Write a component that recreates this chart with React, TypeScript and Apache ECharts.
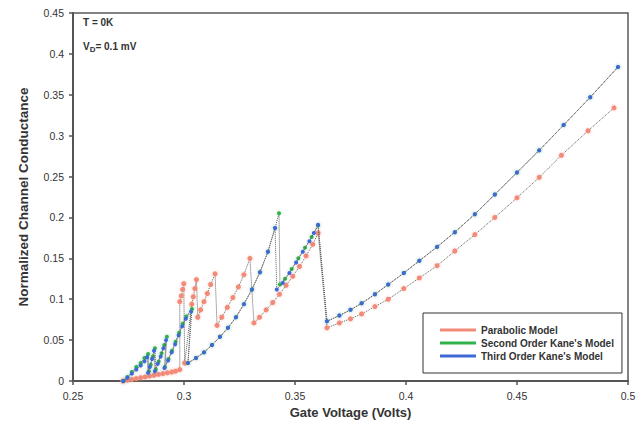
import React, { useEffect, useRef } from "react";
import * as echarts from "echarts";

// ---- Data ----
const xTicks = [0.25, 0.3, 0.35, 0.4, 0.45, 0.5];
const yTicks = [0, 0.05, 0.1, 0.15, 0.2, 0.25, 0.3, 0.35, 0.4, 0.45];
const seriesNames = ["Parabolic Model", "Second Order Kane's Model", "Third Order Kane's Model"];

// Parabolic model
const parabolicX = [
  0.2725, 0.2745, 0.2765, 0.2785, 0.2805, 0.2825, 0.2845, 0.2865, 0.2885, 0.2905, 0.2925, 0.2945, 0.2962, 0.2981,
  0.2981, 0.2988, 0.2994, 0.2999,
  0.3003,
  0.3035, 0.3042, 0.3049, 0.3056,
  0.3062, 0.3075, 0.309, 0.3105, 0.312, 0.314,
  0.3149, 0.317, 0.3195, 0.322, 0.3245, 0.327, 0.3297,
  0.3315, 0.334, 0.337, 0.34, 0.343, 0.346, 0.349, 0.352, 0.355, 0.358, 0.3604,
  0.3644, 0.37, 0.375, 0.38, 0.386, 0.392, 0.399, 0.406, 0.414, 0.422, 0.431, 0.44, 0.45, 0.46, 0.47, 0.482, 0.4937,
];
const parabolicY = [
  0, 0.001, 0.002, 0.003, 0.004, 0.005, 0.006, 0.007, 0.008, 0.009, 0.010, 0.011, 0.012, 0.014,
  0.097, 0.104, 0.112, 0.119,
  0.022,
  0.094, 0.103, 0.113, 0.124,
  0.078, 0.087, 0.097, 0.107, 0.118, 0.131,
  0.068, 0.078, 0.09, 0.102, 0.115, 0.13, 0.15,
  0.071, 0.078, 0.087, 0.096, 0.106, 0.117, 0.128, 0.14, 0.153, 0.167, 0.181,
  0.065, 0.071, 0.076, 0.082, 0.091, 0.1, 0.113, 0.126, 0.141, 0.159, 0.179, 0.2, 0.224, 0.249, 0.276, 0.306, 0.334,
];

// Second order Kane's model
const secondX = [
  0.2727, 0.2745, 0.2765, 0.2785, 0.2805, 0.2822, 0.2838,
  0.2842, 0.285, 0.286, 0.2869,
  0.2873, 0.2886, 0.2899, 0.2911, 0.2923,
  0.2914, 0.293, 0.2946, 0.2962, 0.2978, 0.2994, 0.301, 0.3036,
  0.3018, 0.3054, 0.309, 0.3126, 0.3162, 0.3198, 0.3234, 0.327, 0.3306, 0.3342, 0.3378, 0.341, 0.3428,
  0.3432, 0.3455, 0.3485, 0.3515, 0.3545, 0.3575, 0.3604,
  0.3644, 0.37, 0.375, 0.38, 0.386, 0.392, 0.399, 0.406, 0.414, 0.422, 0.431, 0.44, 0.45, 0.46, 0.471, 0.483, 0.4955,
];
const secondY = [
  0, 0.005, 0.011, 0.017, 0.022, 0.028, 0.033,
  0.012, 0.02, 0.03, 0.04,
  0.014, 0.024, 0.034, 0.044, 0.054,
  0.017, 0.027, 0.037, 0.048, 0.059, 0.07, 0.079, 0.088,
  0.022, 0.028, 0.035, 0.044, 0.054, 0.065, 0.078, 0.094, 0.112, 0.133, 0.158, 0.187, 0.205,
  0.118, 0.125, 0.137, 0.15, 0.163, 0.176, 0.19,
  0.073, 0.08, 0.087, 0.095, 0.106, 0.118, 0.132, 0.147, 0.164, 0.182, 0.204, 0.228, 0.255, 0.282, 0.313, 0.347, 0.384,
];

// Third order Kane's model
const thirdX = [
  0.2727, 0.2745, 0.2765, 0.2785, 0.2805, 0.2822, 0.2834,
  0.2838, 0.2846, 0.2856, 0.2865,
  0.2869, 0.2882, 0.2895, 0.2907, 0.2919,
  0.2912, 0.2928, 0.2944, 0.296, 0.2976, 0.2992, 0.3008, 0.3032,
  0.3018, 0.3054, 0.309, 0.3126, 0.3162, 0.3198, 0.3234, 0.327, 0.3306, 0.3342, 0.3378, 0.341,
  0.3418, 0.3445, 0.3475, 0.3505, 0.3535, 0.3565, 0.3585, 0.3604,
  0.3644, 0.37, 0.375, 0.38, 0.386, 0.392, 0.399, 0.406, 0.414, 0.422, 0.431, 0.44, 0.45, 0.46, 0.471, 0.483, 0.4955,
];
const thirdY = [
  0, 0.004, 0.009, 0.014, 0.019, 0.024, 0.029,
  0.01, 0.017, 0.027, 0.037,
  0.012, 0.021, 0.03, 0.04, 0.05,
  0.016, 0.025, 0.035, 0.045, 0.056, 0.067, 0.076, 0.085,
  0.022, 0.028, 0.035, 0.044, 0.054, 0.065, 0.078, 0.094, 0.112, 0.133, 0.158, 0.187,
  0.112, 0.12, 0.132, 0.145, 0.158, 0.171, 0.181, 0.191,
  0.073, 0.08, 0.087, 0.095, 0.106, 0.118, 0.132, 0.147, 0.164, 0.182, 0.204, 0.228, 0.255, 0.282, 0.313, 0.347, 0.384,
];

const colors = ["#f28a78", "#2fb34a", "#3d68d6"];
const halos = ["rgba(245,150,130,0.55)", "rgba(60,180,80,0.35)", "rgba(70,110,220,0.35)"];

const zip = (xs: number[], ys: number[]) => xs.map((x, i) => [x, ys[i]]);

export default function App() {
  const ref = useRef<HTMLDivElement>(null);
  useEffect(() => {
    if (!ref.current) return;
    const chart = echarts.init(ref.current, null, { renderer: "svg" });
    const font = "Liberation Sans, Arial, sans-serif";
    const fmt = (v: number) => String(parseFloat(v.toFixed(2)));
    const mk = (i: number, xs: number[], ys: number[], size: number, z: number) => ({
      name: seriesNames[i],
      type: "line",
      data: zip(xs, ys),
      symbol: "circle",
      symbolSize: size,
      showSymbol: true,
      showAllSymbol: true,
      lineStyle: { color: "#5e5e5e", width: 1, type: "dotted" },
      itemStyle: { color: colors[i], shadowBlur: 3, shadowColor: halos[i] },
      z,
    });
    chart.setOption({
      animation: false,
      backgroundColor: "#ffffff",
      grid: {
        left: 73,
        right: 16,
        top: 13,
        bottom: 46,
        show: true,
        borderColor: "#5a5a5a",
        borderWidth: 1.5,
        backgroundColor: "transparent",
      },
      xAxis: {
        type: "value",
        min: xTicks[0],
        max: xTicks[xTicks.length - 1],
        interval: 0.05,
        name: "Gate Voltage (Volts)",
        nameLocation: "middle",
        nameGap: 25,
        nameTextStyle: { fontFamily: font, fontWeight: "bold", fontSize: 13, color: "#333" },
        axisLine: { lineStyle: { color: "#555", width: 2 } },
        axisTick: { show: true, length: 4, lineStyle: { color: "#555", width: 1.5 } },
        axisLabel: { formatter: fmt, fontFamily: font, fontSize: 10.5, color: "#333", margin: 9 },
        splitLine: { show: false },
      },
      yAxis: {
        type: "value",
        min: yTicks[0],
        max: yTicks[yTicks.length - 1],
        interval: 0.05,
        name: "Normalized Channel Conductance",
        nameLocation: "middle",
        nameGap: 43,
        nameTextStyle: { fontFamily: font, fontWeight: "bold", fontSize: 13.5, color: "#333" },
        axisLine: { lineStyle: { color: "#555", width: 2 } },
        axisTick: { show: true, length: 4, lineStyle: { color: "#555", width: 1.5 } },
        axisLabel: { formatter: fmt, fontFamily: font, fontSize: 10.5, color: "#333", margin: 9 },
        splitLine: { show: false },
      },
      legend: {
        orient: "vertical",
        left: 423,
        top: 313,
        padding: [12, 8, 12, 17],
        itemGap: 3,
        itemWidth: 36,
        itemHeight: 3,
        icon: "rect",
        borderColor: "#333",
        borderWidth: 1,
        backgroundColor: "#fff",
        textStyle: { fontFamily: font, fontWeight: "bold", fontSize: 10, color: "#333", padding: [0, 0, 0, 0] },
        data: seriesNames.map((n, i) => ({ name: n, itemStyle: { color: colors[i] } })),
      },
      graphic: [
        {
          type: "text",
          left: 83,
          top: 17,
          style: { text: "T = 0K", font: "bold 10px Liberation Sans, Arial, sans-serif", fill: "#333" },
        },
        {
          type: "text",
          left: 83,
          top: 41,
          style: {
            text: "{v|V}{s|D}{v|= 0.1 mV}",
            fill: "#333",
            rich: {
              v: { fontFamily: font, fontWeight: "bold", fontSize: 10, fill: "#333" },
              s: { fontFamily: font, fontWeight: "bold", fontSize: 8, fill: "#333", padding: [6, 0, 0, 0] },
            },
          },
        },
      ],
      series: [
        mk(0, parabolicX, parabolicY, 5, 2),
        mk(1, secondX, secondY, 4, 3),
        mk(2, thirdX, thirdY, 4, 4),
      ],
    });
    return () => chart.dispose();
  }, []);
  return (
    <div
      ref={ref}
      style={{ position: "fixed", left: 0, top: 0, width: 644, height: 427, background: "#fff" }}
    />
  );
}
